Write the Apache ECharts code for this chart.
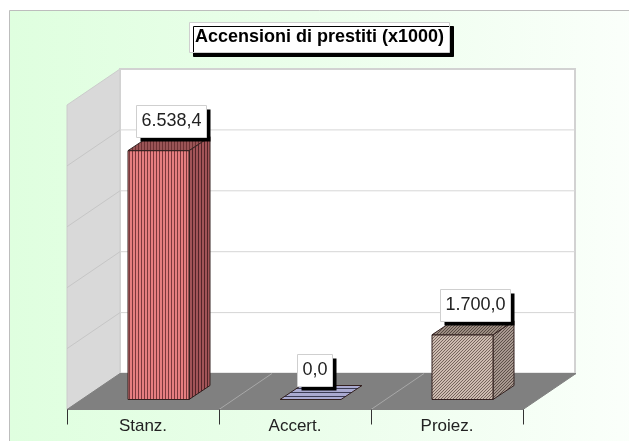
<!DOCTYPE html>
<html><head><meta charset="utf-8">
<style>html,body{margin:0;padding:0;background:#fff}#c{width:629px;height:441px}</style>
<script src="https://cdn.jsdelivr.net/npm/echarts@6/dist/echarts.min.js"></script>
</head><body><div id="c"></div>
<script>
const categories = ['Stanz.', 'Accert.', 'Proiez.'];
const values = [6538.4, 0, 1700];
const valueLabels = ['6.538,4', '0,0', '1.700,0'];
const gridValues = [1600, 3200, 4800, 6400, 8000];

// 3D projection constants
const DEPTH_X = 53, DEPTH_Y = 36;     // floor depth
const BAR_OFF_X = 15.5, BAR_OFF_Y = 10; // bar plane offset
const BAR_W = 61, BAR_DX = 21, BAR_DY = 14;
const LABEL_SHIFT = [12.5, 3.5, 12.5];
const LABEL_FONT = '18px "Liberation Sans", Arial, sans-serif';
const LABEL_H = 32, LABEL_PAD = 5, LABEL_SHADOW = 4;

function pattern(size, draw) {
  const c = document.createElement('canvas');
  c.width = c.height = size;
  draw(c.getContext('2d'));
  return { image: c, repeat: 'repeat' };
}
function stripes(light, dark) {
  return pattern(3, g => {
    g.fillStyle = light; g.fillRect(0, 0, 3, 3);
    g.fillStyle = dark; g.fillRect(0, 0, 1, 3);
  });
}
function hstripes(light, dark) {
  return pattern(4, g => {
    g.fillStyle = light; g.fillRect(0, 0, 4, 4);
    g.fillStyle = dark; g.fillRect(0, 0, 4, 1);
  });
}
function hatch(light, dark) {
  return pattern(3, g => {
    g.fillStyle = light; g.fillRect(0, 0, 3, 3);
    g.fillStyle = dark;
    g.fillRect(2, 0, 1, 1); g.fillRect(1, 1, 1, 1); g.fillRect(0, 2, 1, 1);
  });
}
const fills = [
  { front: stripes('#e67e80', '#7c383c'), side: stripes('#a25458', '#522428'), top: stripes('#9a5456', '#6c3234') },
  { front: hstripes('#aaaad0', '#3c3c54'), side: hstripes('#aaaad0', '#3c3c54'), top: hstripes('#aaaad0', '#3c3c54') },
  { front: hatch('#cdbbb0', '#75645c'), side: hatch('#a89890', '#5c5048'), top: hatch('#9c8c82', '#564a42') }
];

function poly(points, style) {
  return { type: 'polygon', shape: { points }, style };
}

function renderFrame(params, api) {
  const cs = params.coordSys;
  const x0 = cs.x, x1 = cs.x + cs.width;
  const yTop = cs.y, yBase = cs.y + cs.height;
  const ch = [];
  ch.push(poly([[x0, yBase], [x0, yTop], [x0 + DEPTH_X, yTop - DEPTH_Y], [x0 + DEPTH_X, yBase - DEPTH_Y]],
    { fill: '#d9d9d9', stroke: '#cccccc', lineWidth: 1 }));
  ch.push({ type: 'rect', shape: { x: x0 + DEPTH_X, y: yTop - DEPTH_Y, width: cs.width - 1, height: cs.height },
    style: { fill: '#fff', stroke: '#d2d2d2', lineWidth: 2 } });
  ch.push(poly([[x0, yBase], [x1, yBase], [x1 + DEPTH_X, yBase - DEPTH_Y], [x0 + DEPTH_X, yBase - DEPTH_Y]],
    { fill: '#808080', stroke: '#808080', lineWidth: 1 }));
  gridValues.slice(0, -1).forEach(v => {
    const y = api.coord([0, v])[1];
    ch.push({ type: 'line', shape: { x1: x0, y1: y, x2: x0 + DEPTH_X, y2: y - DEPTH_Y },
      style: { stroke: '#c6c6c6', lineWidth: 1 } });
    ch.push({ type: 'line', shape: { x1: x0 + DEPTH_X, y1: y - DEPTH_Y, x2: x1 + DEPTH_X - 1, y2: y - DEPTH_Y },
      style: { stroke: '#d6d6d6', lineWidth: 1 } });
  });
  categories.slice(1).forEach((c, i) => {
    const x = x0 + cs.width * (i + 1) / categories.length;
    ch.push({ type: 'line', shape: { x1: x, y1: yBase, x2: x + DEPTH_X, y2: yBase - DEPTH_Y },
      style: { stroke: '#a8a8a8', lineWidth: 1 } });
  });
  return { type: 'group', children: ch };
}

function renderBar(params, api) {
  const i = api.value(0), v = api.value(1);
  const base = api.coord([i, 0]), top = api.coord([i, v]);
  const xl = base[0] + BAR_OFF_X - BAR_W / 2, xr = xl + BAR_W;
  const yb = base[1] - BAR_OFF_Y, yt = top[1] - BAR_OFF_Y;
  const line = { stroke: '#33201f', lineWidth: 1 };
  const f = fills[i];
  const ch = [];
  if (v > 0) {
    ch.push(poly([[xr, yb], [xr, yt], [xr + BAR_DX, yt - BAR_DY], [xr + BAR_DX, yb - BAR_DY]], { fill: f.side, ...line }));
    ch.push({ type: 'rect', shape: { x: xl, y: yt, width: BAR_W, height: yb - yt }, style: { fill: f.front, ...line } });
  }
  ch.push(poly([[xl, yt], [xr, yt], [xr + BAR_DX, yt - BAR_DY], [xl + BAR_DX, yt - BAR_DY]], { fill: f.top, ...line }));
  return { type: 'group', children: ch };
}

const measureCtx = document.createElement('canvas').getContext('2d');
function renderLabel(params, api) {
  const i = api.value(0), v = api.value(1);
  const base = api.coord([i, 0]), top = api.coord([i, v]);
  const cx = base[0] + BAR_OFF_X + LABEL_SHIFT[i];
  const bottom = top[1] - BAR_OFF_Y - BAR_DY;
  measureCtx.font = LABEL_FONT;
  const w = Math.round(measureCtx.measureText(valueLabels[i]).width) + LABEL_PAD * 2;
  const x = Math.round(cx - w / 2) + 0.5, y = Math.round(bottom - LABEL_H) + 0.5;
  return {
    type: 'group',
    children: [
      { type: 'rect', shape: { x: x + LABEL_SHADOW, y: y + LABEL_SHADOW, width: w, height: LABEL_H }, style: { fill: '#000' } },
      { type: 'rect', shape: { x, y, width: w, height: LABEL_H }, style: { fill: '#fff', stroke: '#cfcfcf', lineWidth: 1 } },
      { type: 'text', x: x + w / 2, y: y + LABEL_H / 2,
        style: { text: valueLabels[i], align: 'center', verticalAlign: 'middle', font: LABEL_FONT, fill: '#222' } }
    ]
  };
}

const barData = categories.map((c, i) => [i, values[i]]);
const chart = echarts.init(document.getElementById('c'), null, { renderer: 'canvas' });
chart.setOption({
  animation: false,
  backgroundColor: '#fff',
  graphic: [{
    type: 'rect', z: -10, silent: true,
    shape: { x: 9.5, y: 10.5, width: 630, height: 440 },
    style: {
      fill: new echarts.graphic.LinearGradient(0, 0, 1, 0, [
        { offset: 0, color: '#dfffdf' }, { offset: 0.45, color: '#eafeea' }, { offset: 1, color: '#fbfffb' }
      ]),
      stroke: '#bdbdbd', lineWidth: 1
    }
  }],
  title: {
    text: 'Accensioni di prestiti (x1000)',
    left: 189, top: 22,
    padding: [6, 6, 6, 6],
    backgroundColor: '#fff', borderColor: '#cfcfcf', borderWidth: 1,
    shadowColor: '#000', shadowBlur: 0, shadowOffsetX: 4, shadowOffsetY: 4,
    textStyle: { fontFamily: '"Liberation Sans", Arial, sans-serif', fontWeight: 'bold', fontSize: 18, color: '#000', lineHeight: 19 }
  },
  grid: { left: 67, top: 105, width: 456, height: 304.5 },
  xAxis: {
    type: 'category', data: categories,
    axisLine: { show: false },
    axisTick: { show: true, length: 15, lineStyle: { color: '#333', width: 1 } },
    axisLabel: { fontFamily: '"Liberation Sans", Arial, sans-serif', fontSize: 17, color: '#222', margin: 8 },
    z: 5
  },
  yAxis: { type: 'value', min: 0, max: 8000, interval: 1600, show: false, splitLine: { show: false } },
  series: [
    { type: 'custom', silent: true, z: 1, renderItem: renderFrame, data: [[0, 0]], clip: false },
    { type: 'custom', silent: true, z: 2, renderItem: renderBar, data: barData, clip: false },
    { type: 'custom', silent: true, z: 3, renderItem: renderLabel, data: barData, clip: false }
  ]
});
</script></body></html>
